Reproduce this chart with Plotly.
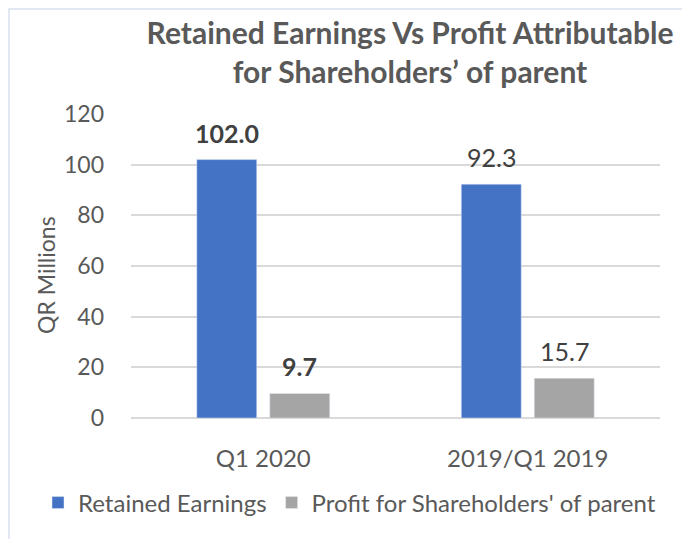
import plotly.graph_objects as go

categories = ["Q1 2020", "2019/Q1 2019"]
retained = [102.0, 92.3]
profit = [9.7, 15.7]
bold_labels_retained = [True, False]
bold_labels_profit = [True, False]
series_names = ["Retained Earnings", "Profit for Shareholders' of parent"]
y_ticks = [0, 20, 40, 60, 80, 100, 120]

W, H = 690, 539
OFF = 8  # page body margin in the screenshot
L, T = 131 - OFF, 114 - OFF
PW, PH = 529, 304
R = W - L - PW
B = H - T - PH
FONT = "Lato, Open Sans, sans-serif"
GRAY_TXT = "#595959"


def px_x(sx):
    return (sx - OFF - L) / PW


def px_y(sy):
    return (T + PH - (sy - OFF)) / PH


fig = go.Figure()
fig.add_trace(go.Bar(x=categories, y=retained, name=series_names[0],
                     marker_color="#4472C4"))
fig.add_trace(go.Bar(x=categories, y=profit, name=series_names[1],
                     marker_color="#A5A5A5"))

annotations = []
for vals, bolds, shift in [(retained, bold_labels_retained, -36.5),
                           (profit, bold_labels_profit, 36.5)]:
    for c, v, b in zip(categories, vals, bolds):
        t = f"{v:.1f}"
        if b:
            t = f"<b>{t}</b>"
        annotations.append(dict(x=c, y=v, xref="x", yref="y", text=t,
                                showarrow=False, xshift=shift, yshift=27,
                                yanchor="middle",
                                font=dict(family=FONT, size=25, color="#404040")))

annotations.append(dict(x=px_x(30), y=px_y(275), xref="paper", yref="paper",
                        text="QR Millions", textangle=-90, showarrow=False,
                        font=dict(family=FONT, size=23, color=GRAY_TXT)))

fig.add_shape(type="rect", xref="paper", yref="paper",
              x0=px_x(9), x1=px_x(W + 20),
              y0=px_y(H + 20), y1=px_y(9),
              line=dict(color="#D9E1EE", width=1.5), layer="below")

fig.update_layout(
    width=W, height=H,
    margin=dict(l=L, r=R, t=T, b=B),
    paper_bgcolor="white", plot_bgcolor="white",
    barmode="group", bargap=0.448, bargroupgap=0.178,
    title=dict(text="<b>Retained Earnings Vs Profit Attributable<br>for Shareholders’ of parent</b>",
               x=(410 - OFF) / W, xanchor="center", y=1 - (44 - OFF) / H,
               yanchor="middle",
               font=dict(family=FONT, size=30, color=GRAY_TXT)),
    font=dict(family=FONT, color=GRAY_TXT),
    legend=dict(orientation="h", xref="paper", yref="paper",
                x=px_x(38), xanchor="left",
                y=px_y(503), yanchor="middle",
                font=dict(family=FONT, size=24, color=GRAY_TXT),
                itemwidth=30, traceorder="normal"),
    annotations=annotations,
    showlegend=True,
)
fig.update_xaxes(showgrid=False, showline=False, ticks="",
                 tickfont=dict(family=FONT, size=24, color=GRAY_TXT),
                 ticklabelstandoff=24)
fig.update_yaxes(range=[0, 120], tickvals=y_ticks, showgrid=True,
                 gridcolor="#D9D9D9", gridwidth=1.5, zeroline=True,
                 zerolinecolor="#D9D9D9", zerolinewidth=1.5, showline=False,
                 tickfont=dict(family=FONT, size=23, color=GRAY_TXT),
                 ticklabelstandoff=26)

fig.write_html("out.html")
